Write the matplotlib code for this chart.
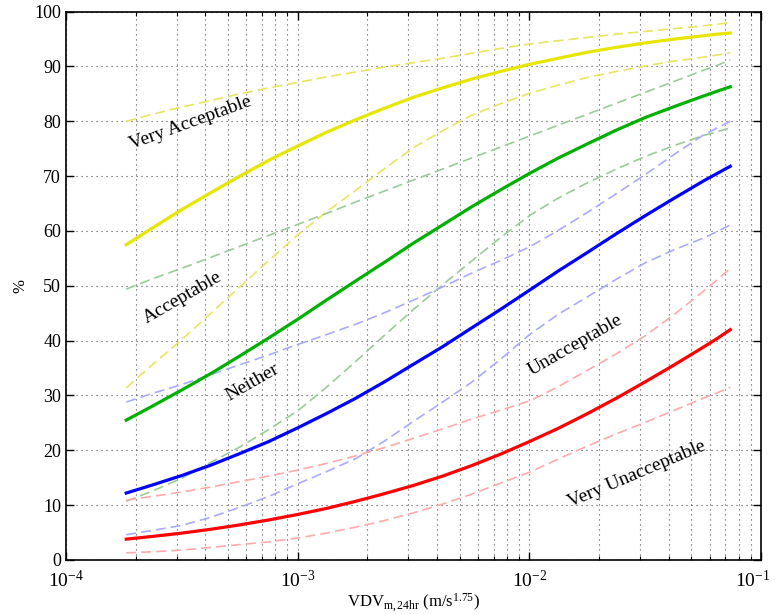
import numpy as np
import matplotlib
matplotlib.use('Agg')
import matplotlib.pyplot as plt
import matplotlib.transforms as mtransforms
from matplotlib.ticker import LogLocator, NullFormatter

plt.rcParams['font.family'] = ['Liberation Serif', 'DejaVu Serif']
plt.rcParams['mathtext.fontset'] = 'custom'
plt.rcParams['mathtext.rm'] = 'Liberation Serif'
plt.rcParams['mathtext.it'] = 'Liberation Serif:italic'

vdv = [1.82e-4, 2.37e-4, 3.16e-4, 4.22e-4, 5.62e-4, 7.50e-4, 1.0e-3, 1.33e-3,
       1.78e-3, 2.37e-3, 3.16e-3, 4.22e-3, 5.62e-3, 7.50e-3, 1.0e-2, 1.33e-2,
       1.78e-2, 2.37e-2, 3.16e-2, 4.22e-2, 5.62e-2, 6.46e-2, 7.35e-2]

# fitted curves (%)
very_acc = [57.5, 60.6, 63.9, 67.0, 70.0, 72.9, 75.5, 78.0, 80.3, 82.4, 84.4, 86.1,
            87.7, 89.1, 90.4, 91.5, 92.6, 93.5, 94.3, 95.0, 95.6, 95.9, 96.1]
acc = [25.5, 28.1, 31.0, 34.0, 37.2, 40.5, 43.9, 47.4, 50.9, 54.3, 57.8, 61.1,
       64.4, 67.5, 70.5, 73.3, 75.9, 78.4, 80.7, 82.7, 84.6, 85.5, 86.3]
neither = [12.2, 13.7, 15.4, 17.3, 19.4, 21.6, 24.1, 26.7, 29.5, 32.5, 35.7, 38.9,
           42.3, 45.7, 49.2, 52.7, 56.1, 59.5, 62.8, 66.0, 69.1, 70.5, 71.8]
unacc = [3.8, 4.3, 4.9, 5.6, 6.4, 7.3, 8.3, 9.4, 10.7, 12.1, 13.6, 15.3,
         17.2, 19.3, 21.6, 24.0, 26.7, 29.5, 32.5, 35.6, 38.8, 40.4, 42.0]

# confidence bounds (%)
very_acc_hi = [80.0, 81.3, 82.6, 83.8, 85.0, 86.1, 87.1, 88.1, 89.0, 89.9, 90.7, 91.5,
               92.4, 93.3, 94.1, 94.7, 95.3, 95.9, 96.4, 96.9, 97.4, 97.7, 98.0]
very_acc_lo = [31.4, 35.7, 40.2, 45.0, 49.8, 54.6, 59.3, 63.5, 67.4, 71.4, 75.2, 78.3,
               81.1, 83.2, 85.1, 86.6, 88.0, 89.1, 90.1, 91.0, 91.7, 92.1, 92.5]
acc_hi = [49.4, 51.3, 53.2, 55.2, 57.2, 59.2, 61.2, 63.2, 65.3, 67.3, 69.3, 71.3,
          73.3, 75.3, 77.3, 79.3, 81.3, 83.3, 85.3, 87.3, 89.3, 90.2, 91.2]
acc_lo = [10.7, 12.6, 14.9, 17.8, 20.6, 23.8, 27.2, 31.5, 36.2, 41.0, 45.7, 50.2,
          54.5, 58.8, 62.8, 66.0, 68.8, 71.3, 73.6, 75.6, 77.4, 78.1, 78.8]
neither_hi = [28.8, 30.4, 32.0, 33.8, 35.6, 37.4, 39.3, 41.1, 43.0, 45.1, 47.4, 49.8,
              52.3, 54.6, 57.1, 60.1, 63.4, 66.8, 70.3, 74.0, 77.5, 78.8, 80.0]
neither_lo = [4.6, 5.4, 6.3, 7.8, 9.6, 11.6, 13.9, 16.1, 18.5, 21.7, 25.3, 28.8,
              32.4, 36.6, 41.1, 44.8, 48.0, 51.2, 54.2, 56.6, 58.7, 59.9, 61.1]
unacc_hi = [10.9, 11.6, 12.4, 13.3, 14.3, 15.3, 16.4, 17.6, 19.0, 20.5, 22.2, 23.9,
            25.7, 27.3, 29.0, 31.6, 34.6, 37.6, 40.9, 44.8, 49.0, 51.1, 53.2]
unacc_lo = [1.3, 1.5, 1.8, 2.3, 2.8, 3.3, 4.0, 4.9, 6.0, 7.2, 8.6, 10.2,
            12.0, 14.0, 16.0, 18.4, 20.8, 23.0, 25.1, 27.3, 29.5, 30.5, 31.5]

labels = ['Very Acceptable', 'Acceptable', 'Neither', 'Unacceptable', 'Very Unacceptable']
label_x = [3.43e-4, 3.2e-4, 6.35e-4, 1.57e-2, 2.9e-2]
label_y = [79.7, 47.8, 32.3, 39.2, 15.7]
label_rot = [20, 30, 30, 30, 23]

fig = plt.figure(figsize=(7.76, 6.14), dpi=100)
ax = fig.add_axes([0.085, 0.088, 0.896, 0.893])

colors = ['#e6e600', '#00b000', '#0000ff', '#ff0000']
light = ['#e6e660', '#99cc99', '#aaaaff', '#ffaaaa']
solid = [very_acc, acc, neither, unacc]
upper = [very_acc_hi, acc_hi, neither_hi, unacc_hi]
lower = [very_acc_lo, acc_lo, neither_lo, unacc_lo]

for i in range(4):
    ax.plot(vdv, upper[i], color=light[i], lw=1.2, dashes=(6, 3))
    ax.plot(vdv, lower[i], color=light[i], lw=1.2, dashes=(6, 3))
for i in range(4):
    ax.plot(vdv, solid[i], color=colors[i], lw=2.3)

for t, x, y, r in zip(labels, label_x, label_y, label_rot):
    ax.text(x, y, t, rotation=r, ha='center', va='center', fontsize=14,
            rotation_mode='anchor')

ax.set_xscale('log')
ax.set_xlim(1e-4, 1e-1)
ax.set_ylim(0, 100)
ax.set_yticks(np.arange(0, 101, 10))
ax.xaxis.set_minor_locator(LogLocator(base=10, subs=np.arange(2, 10)))
ax.xaxis.set_minor_formatter(NullFormatter())
ax.grid(True, which='major', linestyle=(0, (1, 3.5)), color='0.3', lw=0.8)
ax.grid(True, which='minor', axis='x', linestyle=(0, (1, 3.5)), color='0.3', lw=0.8)
ax.tick_params(which='both', direction='in', top=True, right=True, labelsize=13)
ax.tick_params(axis='x', which='major', pad=7, labelsize=14)
ax.tick_params(which='major', length=6, width=1)
ax.tick_params(which='minor', length=3, width=0.8)
for s in ax.spines.values():
    s.set_linewidth(1.2)

ax.set_xlabel(r'VDV$_{\mathrm{m,24hr}}$ (m/s$^{1.75}$)', fontsize=12, labelpad=0)
ax.set_ylabel('%', fontsize=12)

# keep the 10^-1 label inside the figure
fig.canvas.draw()
shift = mtransforms.ScaledTranslation(-6 / 72, 0, fig.dpi_scale_trans)
for tick in ax.xaxis.get_major_ticks():
    if np.isclose(tick.get_loc(), 0.1):
        tick.label1.set_transform(tick.label1.get_transform() + shift)

fig.savefig('out.png', dpi=100)
